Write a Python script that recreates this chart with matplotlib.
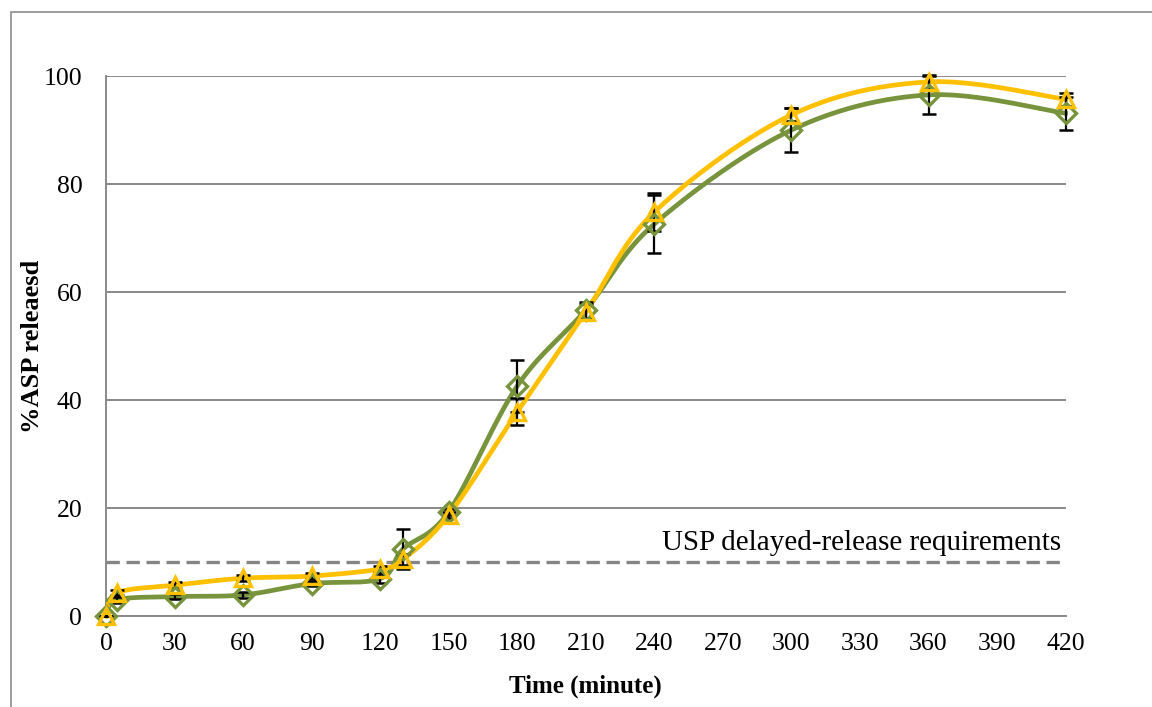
import numpy as np
import matplotlib
matplotlib.use("Agg")
import matplotlib.pyplot as plt
from matplotlib.patches import Rectangle

# dissolution data
time_min = [0, 5, 30, 60, 90, 120, 130, 150, 180, 210, 240, 300, 360, 420]
green_rel = [0, 3.0, 3.6, 3.9, 6.0, 6.9, 12.4, 19.3, 42.6, 56.7, 72.6, 90.0, 96.5, 93.1]
green_err = [0, 0.5, 0.5, 0.5, 0.5, 0.8, 3.7, 0.6, 4.8, 1.5, 5.4, 4.1, 3.5, 3.1]
yellow_rel = [0, 4.3, 5.7, 7.0, 7.4, 8.7, 10.5, 18.7, 37.8, 56.3, 74.8, 92.8, 98.9, 95.7]
yellow_err = [0, 0.5, 0.6, 0.6, 0.5, 0.6, 1.0, 0.6, 2.5, 1.5, 3.5, 1.2, 1.3, 1.2]
usp_limit = 10
x_ticks = list(range(0, 421, 30))
y_ticks = [0, 20, 40, 60, 80, 100]

GREEN = "#77933C"
YELLOW = "#FFC000"
GRID = "#898989"


def smooth(xs, ys, n=30):
    # Excel-like smoothed line: cubic Bezier with Catmull-Rom control points
    xs = np.asarray(xs, float)
    ys = np.asarray(ys, float)
    px = np.concatenate([[xs[0]], xs, [xs[-1]]])
    py = np.concatenate([[ys[0]], ys, [ys[-1]]])
    outx, outy = [], []
    t = np.linspace(0, 1, n)
    for i in range(1, len(px) - 2):
        p0 = np.array([px[i], py[i]])
        p3 = np.array([px[i + 1], py[i + 1]])
        c1 = p0 + (np.array([px[i + 1], py[i + 1]]) - np.array([px[i - 1], py[i - 1]])) / 6
        c2 = p3 - (np.array([px[i + 2], py[i + 2]]) - np.array([px[i], py[i]])) / 6
        b = ((1 - t) ** 3)[:, None] * p0 + (3 * (1 - t) ** 2 * t)[:, None] * c1 \
            + (3 * (1 - t) * t ** 2)[:, None] * c2 + (t ** 3)[:, None] * p3
        outx.extend(b[:, 0])
        outy.extend(b[:, 1])
    return outx, outy


plt.rcParams["font.family"] = ["Liberation Serif", "DejaVu Serif"]

fig = plt.figure(figsize=(11.52, 7.07), dpi=100)
ax = fig.add_axes([0.092, 0.1287, 0.833, 0.7638])

# outer chart border
fig.patches.append(Rectangle((11 / 1152, -0.01), 1.5, 1 - 12 / 707 + 0.01,
                             transform=fig.transFigure, fill=False,
                             edgecolor="#8c8c8c", linewidth=1.2))

ax.set_xlim(0, 420)
ax.set_ylim(0, 100)
ax.set_xticks(x_ticks)
ax.set_yticks(y_ticks)
ax.tick_params(axis="both", length=0, labelsize=18.5)
ax.tick_params(axis="y", pad=17)
ax.tick_params(axis="x", pad=12)
ax.grid(axis="y", color=GRID, linewidth=1.4)
ax.set_axisbelow(True)
for s in ["top", "right"]:
    ax.spines[s].set_visible(False)
ax.spines["left"].set_color(GRID)
ax.spines["left"].set_linewidth(1.4)
ax.spines["bottom"].set_color(GRID)
ax.spines["bottom"].set_linewidth(1.4)

ax.plot([0, 420], [usp_limit, usp_limit], color="#858585", linestyle=(0, (4, 2)),
        linewidth=2.4, zorder=2)
ax.text(418, usp_limit + 1.2, "USP delayed-release requirements", ha="right",
        va="bottom", fontsize=21)

gx, gy = smooth(time_min, green_rel)
yx, yy = smooth(time_min, yellow_rel)
ax.plot(gx, gy, color=GREEN, linewidth=3.4, zorder=3, clip_on=False)
ax.plot(yx, yy, color=YELLOW, linewidth=3.4, zorder=4, clip_on=False)

ax.errorbar(time_min, green_rel, yerr=green_err, fmt="none", ecolor="black",
            elinewidth=1.6, capsize=5, capthick=1.8, zorder=5, clip_on=False)
ax.errorbar(time_min, yellow_rel, yerr=yellow_err, fmt="none", ecolor="black",
            elinewidth=1.6, capsize=5, capthick=1.8, zorder=5, clip_on=False)

ax.plot(time_min, green_rel, linestyle="none", marker="D", markersize=10,
        markerfacecolor="none", markeredgecolor=GREEN, markeredgewidth=2.4,
        zorder=6, clip_on=False)
ax.plot(time_min, yellow_rel, linestyle="none", marker="^", markersize=11,
        markerfacecolor="none", markeredgecolor=YELLOW, markeredgewidth=2.4,
        zorder=7, clip_on=False)

xl = ax.set_xlabel("Time (minute)", fontsize=18, fontweight="bold")
xl.set_va("center")
ax.xaxis.set_label_coords(0.5, -0.131)
yl = ax.set_ylabel("%ASP releaesd", fontsize=19, fontweight="bold")
yl.set_va("center")
ax.yaxis.set_label_coords(-0.077, 0.5)

fig.savefig("out.png", dpi=100)
